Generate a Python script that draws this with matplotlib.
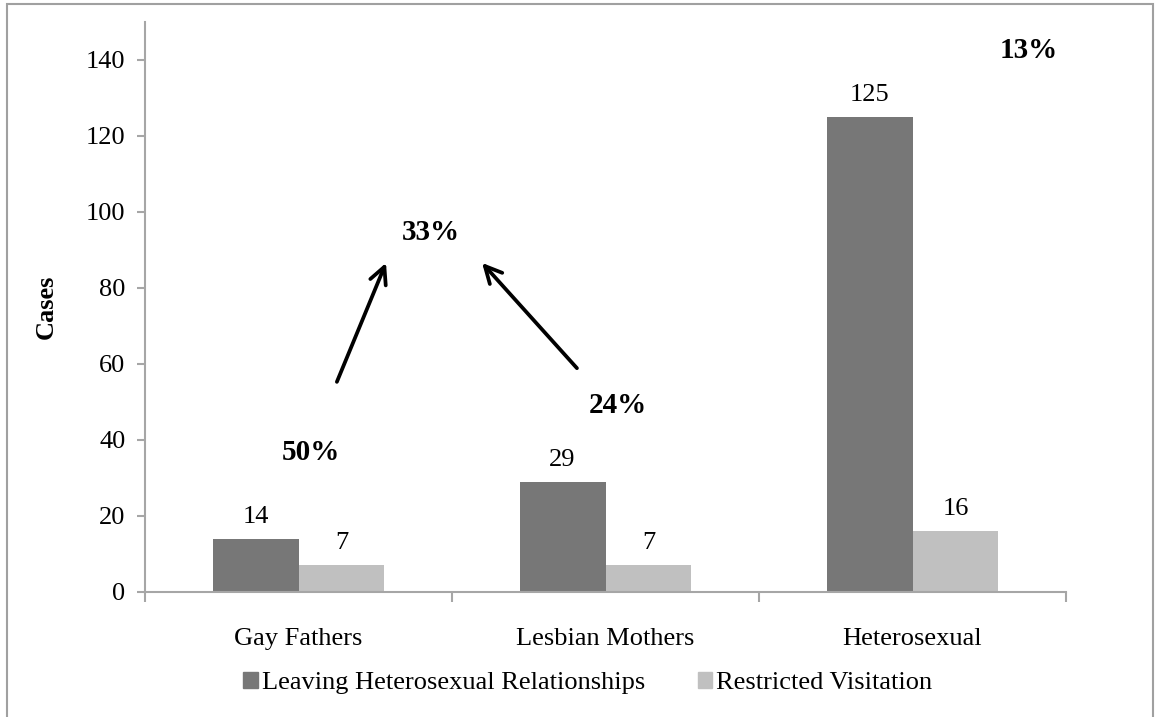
import numpy as np
import matplotlib
matplotlib.use('Agg')
from matplotlib import pyplot as plt
from matplotlib.patches import Rectangle, Patch

plt.rcParams['font.family'] = ['Liberation Serif', 'DejaVu Serif']

# chart data
categories = ['Gay Fathers', 'Lesbian Mothers', 'Heterosexual']
series_names = ['Leaving Heterosexual Relationships', 'Restricted Visitation']
leaving = [14, 29, 125]
restricted = [7, 7, 16]
y_ticks = [0, 20, 40, 60, 80, 100, 120, 140]
pct_labels = ['50%', '24%', '13%', '33%']

# placement of the percentage notes and arrows (data coords)
pct_pos = [(0.04, 36.8), (1.04, 49.2), (2.38, 142.5), (0.43, 94.7)]
arrows = [((0.125, 55.3), (0.285, 86.6)), ((0.907, 58.9), (0.598, 86.6))]

dark = '#777777'
light = '#c0c0c0'
axis_gray = '#a6a6a6'
fs = 19

W, H = 1159, 717
fig = plt.figure(figsize=(W / 100, H / 100), dpi=100)
ax = fig.add_axes([145 / W, (H - 592) / H, 921 / W, 570 / H])

x = np.arange(len(categories))
bw = 0.28
b1 = ax.bar(x - bw / 2, leaving, bw, color=dark)
b2 = ax.bar(x + bw / 2, restricted, bw, color=light)

for bars, vals in [(b1, leaving), (b2, restricted)]:
    for bar, v in zip(bars, vals):
        ax.annotate(str(v), (bar.get_x() + bar.get_width() / 2, v),
                    xytext=(0, 8), textcoords='offset points',
                    ha='center', va='bottom', fontsize=fs)

ax.set_xlim(-0.5, 2.5)
ax.set_ylim(0, 150)
ax.set_yticks(y_ticks)
ax.set_xticks(x)
ax.set_xticklabels(categories, fontsize=fs)
ax.set_xticks([-0.5, 0.5, 1.5, 2.5], minor=True)
ax.tick_params(axis='x', which='major', length=0, pad=26)
ax.tick_params(axis='x', which='minor', length=7, width=1.5, color=axis_gray)
ax.tick_params(axis='y', length=6, width=1.5, color=axis_gray, labelsize=fs, pad=8)
for s in ['top', 'right']:
    ax.spines[s].set_visible(False)
for s in ['left', 'bottom']:
    ax.spines[s].set_color(axis_gray)
    ax.spines[s].set_linewidth(1.5)

ax.set_ylabel('Cases', fontsize=fs, fontweight='bold')
ax.yaxis.set_label_coords(-0.0945, 0.5)

for lab, (px, py) in zip(pct_labels, pct_pos):
    ax.text(px, py, lab, ha='center', va='center', fontsize=fs + 2, fontweight='bold')

for start, end in arrows:
    ax.annotate('', xy=end, xytext=start,
                arrowprops=dict(arrowstyle='->', lw=2.7, color='black',
                                mutation_scale=30, shrinkA=0, shrinkB=0))

handles = [Patch(color=dark), Patch(color=light)]
fig.legend(handles, series_names, loc='center', bbox_to_anchor=(588 / W, 1 - 683 / H),
           ncol=2, frameon=False, fontsize=fs, handlelength=0.55, handleheight=0.55,
           handletextpad=0.15, columnspacing=2.0, borderaxespad=0, borderpad=0)

fig.patches.append(Rectangle((7 / W, -0.01), (1153 - 7) / W, 1 - 4 / H + 0.01,
                             transform=fig.transFigure, fill=False,
                             edgecolor='#a0a0a0', lw=1.5))

fig.savefig('out.png', dpi=100)
